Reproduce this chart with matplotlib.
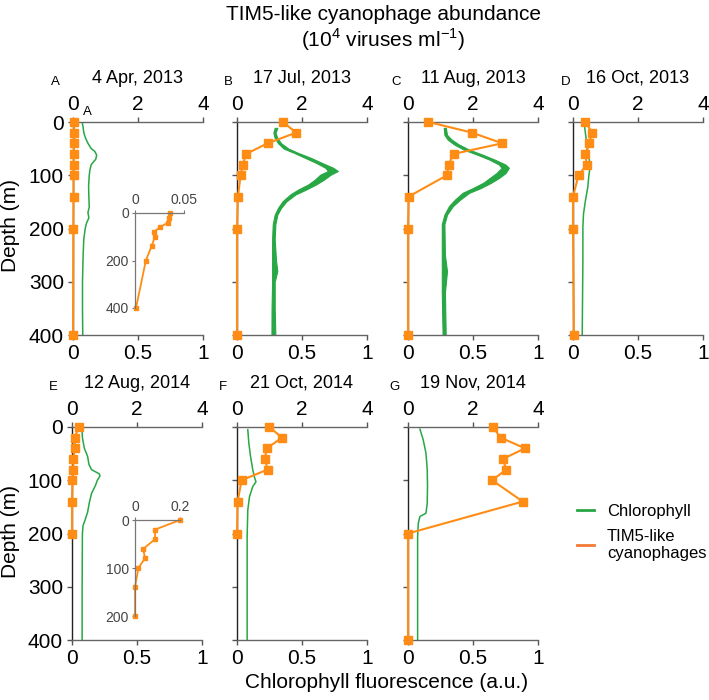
import numpy as np
import matplotlib.pyplot as plt
from matplotlib.lines import Line2D

plt.rcParams['font.family'] = ['Liberation Sans', 'DejaVu Sans']
plt.rcParams['mathtext.fontset'] = 'custom'
plt.rcParams['mathtext.rm'] = 'Liberation Sans'

W, H = 709, 700
ORANGE = '#ff8c14'
GREEN = '#28a745'

dates = ['4 Apr, 2013', '17 Jul, 2013', '11 Aug, 2013', '16 Oct, 2013',
         '12 Aug, 2014', '21 Oct, 2014', '19 Nov, 2014']
letters = ['A', 'B', 'C', 'D', 'E', 'F', 'G']

# TIM5-like cyanophages (10^4 viruses/ml) at sampled depths
tim5_depth = [
    [0, 20, 40, 60, 80, 100, 140, 200, 400],
    [0, 20, 40, 60, 80, 100, 140, 200, 400],
    [0, 20, 40, 60, 80, 100, 140, 200, 400],
    [0, 20, 40, 60, 80, 100, 140, 200, 400],
    [0, 20, 40, 60, 80, 100, 140, 200],
    [0, 20, 40, 60, 80, 100, 140, 200],
    [0, 20, 40, 60, 80, 100, 140, 200, 400],
]
tim5 = [
    [0.035, 0.035, 0.034, 0.025, 0.019, 0.020, 0.017, 0.011, 0.001],
    [1.41, 1.82, 0.94, 0.28, 0.18, 0.11, 0.03, 0.0, 0.0],
    [0.63, 1.97, 2.90, 1.40, 1.25, 1.20, 0.02, 0.0, 0.0],
    [0.38, 0.59, 0.50, 0.38, 0.42, 0.17, 0.0, 0.0, 0.03],
    [0.20, 0.089, 0.089, 0.037, 0.044, 0.015, 0.0, 0.0],
    [0.99, 1.39, 0.91, 0.86, 0.94, 0.14, 0.02, 0.0],
    [2.61, 2.85, 3.60, 2.92, 3.02, 2.59, 3.53, 0.0, 0.0],
]

# chlorophyll fluorescence profiles (a.u.)
chl_depth = [
    [0, 10, 20, 30, 40, 50, 55, 62, 70, 80, 90, 100, 120, 140, 160, 170, 180, 190, 200, 220, 250, 300, 350, 400],
    [11, 20, 30, 40, 50, 58, 67, 77, 86, 92, 99, 108, 117, 127, 136, 149, 161, 174, 192, 220, 260, 280, 300, 350, 400],
    [11, 24, 33, 42, 52, 61, 71, 80, 86, 96, 105, 114, 124, 133, 146, 158, 174, 192, 250, 280, 320, 400],
    [6, 22, 40, 59, 70, 84, 90, 103, 122, 147, 172, 197, 259, 400],
    [0, 20, 40, 55, 70, 80, 88, 92, 100, 110, 125, 140, 160, 175, 185, 200, 300, 400],
    [5, 30, 55, 80, 95, 103, 112, 131, 156, 206, 400],
    [4, 24, 49, 80, 110, 143, 162, 168, 181, 206, 400],
]
chl = [
    [0.070, 0.078, 0.083, 0.096, 0.115, 0.14, 0.167, 0.182, 0.175, 0.14, 0.13, 0.125, 0.12, 0.122, 0.125, 0.115, 0.122, 0.104, 0.094, 0.083, 0.078, 0.073, 0.073, 0.075],
    [0.30, 0.288, 0.30, 0.328, 0.378, 0.455, 0.543, 0.633, 0.71, 0.738, 0.68, 0.635, 0.58, 0.50, 0.43, 0.365, 0.328, 0.30, 0.285, 0.28, 0.285, 0.29, 0.28, 0.278, 0.28],
    [0.283, 0.29, 0.32, 0.372, 0.45, 0.55, 0.65, 0.725, 0.748, 0.715, 0.665, 0.61, 0.53, 0.445, 0.38, 0.33, 0.29, 0.27, 0.272, 0.28, 0.272, 0.278],
    [0.088, 0.096, 0.106, 0.116, 0.125, 0.134, 0.128, 0.121, 0.114, 0.096, 0.081, 0.076, 0.076, 0.071],
    [0.076, 0.08, 0.095, 0.12, 0.13, 0.15, 0.21, 0.215, 0.195, 0.18, 0.15, 0.135, 0.12, 0.10, 0.085, 0.08, 0.078, 0.078],
    [0.083, 0.091, 0.104, 0.121, 0.135, 0.146, 0.121, 0.096, 0.083, 0.078, 0.078],
    [0.092, 0.117, 0.138, 0.148, 0.15, 0.148, 0.138, 0.092, 0.079, 0.074, 0.074],
]
# half-width of the noisy chlorophyll band (only B and C are noisy)
chl_band = [
    None,
    [0.01, 0.008, 0.01, 0.012, 0.018, 0.015, 0.022, 0.022, 0.03, 0.038, 0.04, 0.035, 0.03, 0.03, 0.02, 0.015, 0.012, 0.01, 0.01, 0.01, 0.015, 0.02, 0.01, 0.012, 0.015],
    [0.008, 0.01, 0.015, 0.018, 0.02, 0.02, 0.02, 0.025, 0.028, 0.035, 0.035, 0.03, 0.03, 0.025, 0.02, 0.015, 0.01, 0.01, 0.012, 0.02, 0.012, 0.012],
    None, None, None, None,
]

# insets (zoomed TIM5 profiles for A and E)
insetA_depth = [0, 20, 40, 60, 80, 100, 140, 200, 400]
insetA_vals = [0.0355, 0.0348, 0.0338, 0.0253, 0.0193, 0.0203, 0.0169, 0.0111, 0.001]
insetE_depth = [0, 20, 40, 60, 80, 100, 140, 200]
insetE_vals = [0.2, 0.089, 0.089, 0.037, 0.044, 0.015, 0.0, 0.0]

# layout in pixels
lefts = [73, 237, 408, 573, 72, 237, 408]
tops = [122, 122, 122, 122, 427, 427, 427]
letter_dx = [-18, -9, -12, -7, -19, -14, -14]
pw, ph = 130, 213

fig = plt.figure(figsize=(W / 100, H / 100), dpi=100)


def px_axes(l, t, w, h):
    return fig.add_axes([l / W, 1 - (t + h) / H, w / W, h / H])


for i in range(7):
    ax = px_axes(lefts[i], tops[i], pw, ph)
    ax.set_xlim(0, 1)
    ax.set_ylim(400, 0)
    ax.spines['right'].set_visible(False)
    ax.spines['top'].set_visible(False)
    ax.spines['left'].set_color('#222222')
    ax.spines['bottom'].set_color('#666666')
    for s in ['left', 'bottom']:
        ax.spines[s].set_linewidth(1.0)
    ax.set_xticks([0, 0.5, 1])
    ax.set_xticklabels(['0', '0.5', '1'])
    ax.set_yticks([0, 100, 200, 300, 400])
    if i not in (0, 4):
        ax.set_yticklabels([])
    ax.tick_params(direction='out', length=3.5, width=1, color='#555555',
                   labelsize=15, pad=3)

    d = chl_depth[i]
    c = np.array(chl[i])
    if chl_band[i] is not None:
        b = np.array(chl_band[i])
        ax.fill_betweenx(d, c - b, c + b, color=GREEN, lw=0.8)
    else:
        ax.plot(c, d, color=GREEN, lw=1.1)

    ax2 = ax.twiny()
    ax2.set_xlim(0, 4)
    ax2.set_ylim(400, 0)
    for s in ['left', 'right', 'bottom']:
        ax2.spines[s].set_visible(False)
    ax2.spines['top'].set_color('#666666')
    ax2.spines['top'].set_linewidth(1.0)
    ax2.set_xticks([0, 2, 4])
    ax2.tick_params(direction='out', length=3.5, width=1, color='#555555',
                    labelsize=15, pad=2)
    ax2.plot(tim5[i], tim5_depth[i], color=ORANGE, lw=1.5, marker='s',
             ms=6, clip_on=False, zorder=5)

    ax.text(0.5, 1 + 44 / ph, dates[i], transform=ax.transAxes,
            ha='center', va='center', fontsize=13)
    ax.text(letter_dx[i] / pw, 1 + 40 / ph, letters[i], transform=ax.transAxes,
            ha='center', va='center', fontsize=9.5)


def inset(l, t, w, h, depth, vals, xmax, yticks, xlabels):
    axi = px_axes(l, t, w, h)
    axi.set_xlim(0, xmax)
    axi.set_ylim(yticks[-1], 0)
    axi.patch.set_visible(False)
    for s in ['right', 'bottom']:
        axi.spines[s].set_visible(False)
    for s in ['left', 'top']:
        axi.spines[s].set_color('#777777')
        axi.spines[s].set_linewidth(0.9)
    axi.xaxis.tick_top()
    axi.set_xticks([0, xmax])
    axi.set_xticklabels(xlabels)
    axi.set_yticks(yticks)
    axi.tick_params(direction='out', length=2.5, width=0.8, color='#777777',
                    labelsize=10, labelcolor='#444444', pad=2)
    axi.plot(vals, depth, color=ORANGE, lw=1.3, marker='s', ms=3.5,
             clip_on=False)


inset(135, 213, 49, 95, insetA_depth, insetA_vals, 0.05, [0, 200, 400], ['0', '0.05'])
inset(135, 520, 45, 96, insetE_depth, insetE_vals, 0.2, [0, 100, 200], ['0', '0.2'])

fig.text(87 / W, 1 - 112 / H, 'A', ha='center', va='center', fontsize=9.5)

fig.text(383 / W, 1 - 15 / H, 'TIM5-like cyanophage abundance',
         ha='center', va='center', fontsize=15)
fig.text(383 / W, 1 - 40 / H, r'(10$^{\mathrm{4}}$ viruses ml$^{\mathrm{-1}}$)',
         ha='center', va='center', fontsize=15)
fig.text(387 / W, 1 - 683 / H, 'Chlorophyll fluorescence (a.u.)',
         ha='center', va='center', fontsize=15)
fig.text(11 / W, 1 - 226 / H, 'Depth (m)', rotation=90,
         ha='center', va='center', fontsize=15)
fig.text(11 / W, 1 - 531 / H, 'Depth (m)', rotation=90,
         ha='center', va='center', fontsize=15)

handles = [Line2D([0], [0], color=GREEN, lw=2),
           Line2D([0], [0], color='#f27a35', lw=2)]
fig.legend(handles, ['Chlorophyll', 'TIM5-like\ncyanophages'],
           loc='upper left', bbox_to_anchor=(562 / W, 1 - 489 / H),
           frameon=False, fontsize=12, handlelength=1.0, handletextpad=0.8,
           labelspacing=0.6)

fig.savefig('out.png', dpi=100)
